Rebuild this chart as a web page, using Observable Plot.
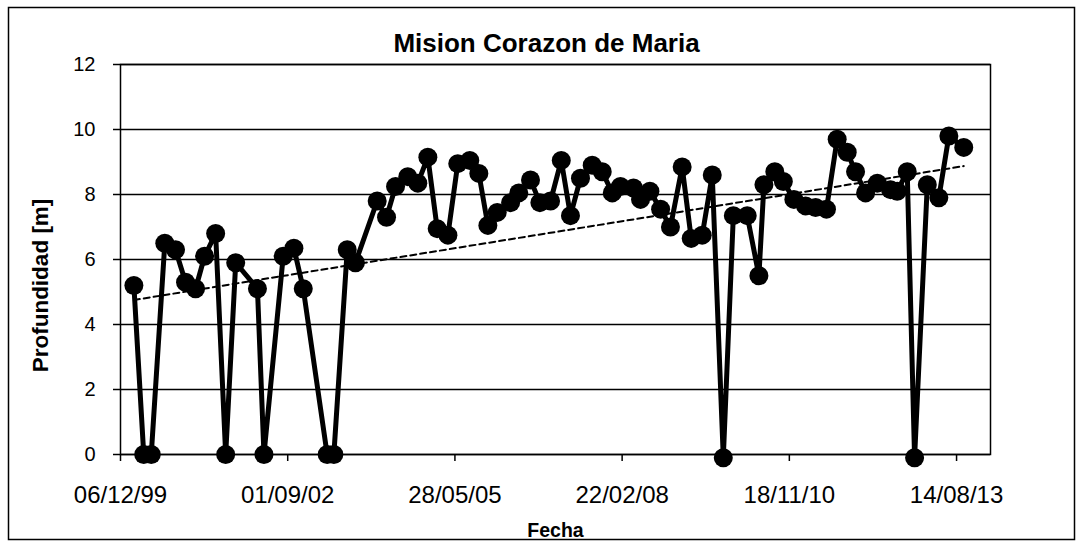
<!DOCTYPE html>
<html><head><meta charset="utf-8">
<script src="https://cdn.jsdelivr.net/npm/d3@7"></script>
<script src="https://cdn.jsdelivr.net/npm/@observablehq/plot@0.6"></script>
<style>body{margin:0;background:#fff}</style>
</head><body><div id="chart"></div>
<script>
const titulo = "Mision Corazon de Maria";
const etiquetaX = "Fecha";
const etiquetaY = "Profundidad [m]";
const fechas = [
 "2000-02-24","2000-04-23","2000-06-07","2000-08-27","2000-10-30","2000-12-29","2001-02-27","2001-04-22","2001-06-27","2001-08-26",
 "2001-10-25","2002-03-04","2002-04-12","2002-08-05","2002-10-08","2002-12-03","2003-04-25","2003-06-04","2003-08-23","2003-10-11",
 "2004-02-18","2004-04-14","2004-06-07","2004-08-19","2004-10-18","2004-12-17","2005-02-11","2005-04-16","2005-06-14","2005-08-25",
 "2005-10-18","2005-12-11","2006-02-05","2006-04-26","2006-06-14","2006-08-23","2006-10-18","2006-12-21","2007-02-23","2007-04-19",
 "2007-06-18","2007-08-27","2007-10-26","2007-12-25","2008-02-12","2008-04-30","2008-06-11","2008-08-06","2008-10-09","2008-12-07",
 "2009-02-15","2009-04-10","2009-06-15","2009-08-14","2009-10-19","2009-12-18","2010-03-11","2010-05-20","2010-06-19","2010-08-23",
 "2010-10-13","2010-12-15","2011-02-23","2011-04-24","2011-06-28","2011-08-31","2011-10-30","2011-12-19","2012-02-17","2012-04-27",
 "2012-07-15","2012-08-24","2012-10-23","2012-12-06","2013-02-20","2013-04-30","2013-06-29","2013-09-26"
];
const profundidad = [
 5.2,0,0,6.5,6.3,5.3,5.1,6.1,6.8,0,
 5.9,5.1,0,6.1,6.35,5.1,0,0,6.3,5.9,
 7.8,7.3,8.25,8.55,8.35,9.15,6.95,6.75,8.95,9.05,
 8.65,7.05,7.45,7.75,8.05,8.45,7.75,7.8,9.05,7.35,
 8.5,8.9,8.7,8.05,8.25,8.2,7.85,8.1,7.55,7.0,
 8.85,6.65,6.75,8.6,-0.1,7.35,7.35,5.5,8.3,8.7,
 8.4,7.85,7.65,7.6,7.55,9.7,9.3,8.7,8.05,8.35,
 8.15,8.1,8.7,-0.1,8.3,7.9,9.8,9.45
];
const yTicks = [0,2,4,6,8,10,12];
const xTickLabels = ["06/12/99","01/09/02","28/05/05","22/02/08","18/11/10","14/08/13"];
const xMax = "2014-03-05";

const parse = d3.utcParse("%d/%m/%y");
const xTicks = xTickLabels.map(parse);
const data = fechas.map((f,i)=>({fecha:new Date(f), prof:profundidad[i]}));
const font = "'Liberation Sans',Arial,sans-serif";

const plot = Plot.plot({
  width:1081, height:548,
  marginLeft:120, marginRight:91, marginTop:64, marginBottom:94,
  style:{fontFamily:font, fontSize:"20px", color:"#000", background:"#fff", overflow:"visible"},
  x:{type:"utc", domain:[xTicks[0], new Date(xMax)]},
  y:{domain:[0,12]},
  marks:[
    Plot.ruleY(yTicks,{stroke:"#000", strokeWidth:1.5}),
    Plot.frame({stroke:"#000", strokeWidth:1.5}),
    Plot.axisY({ticks:yTicks, tickSize:7, tickPadding:18, label:null, fontSize:20, strokeWidth:1.5}),
    Plot.axisX({ticks:xTicks, tickFormat:d3.utcFormat("%d/%m/%y"), tickSize:7, tickPadding:24, label:null, fontSize:24, strokeWidth:1.5}),
    Plot.linearRegressionY(data,{x:"fecha", y:"prof", ci:0, stroke:"#000", strokeWidth:2, strokeDasharray:"6,4"}),
    Plot.line(data,{x:"fecha", y:"prof", stroke:"#000", strokeWidth:5}),
    Plot.dot(data,{x:"fecha", y:"prof", r:9.5, fill:"#000"}),
    Plot.text([titulo],{frameAnchor:"top", textAnchor:"middle", lineAnchor:"middle", dx:-9, dy:-20.5, fontSize:26, fontWeight:"bold"}),
    Plot.text([etiquetaY],{frameAnchor:"left", textAnchor:"middle", lineAnchor:"middle", dx:-80, dy:26, rotate:-90, fontSize:22.5, fontWeight:"bold"}),
    Plot.text([etiquetaX],{frameAnchor:"bottom", textAnchor:"middle", lineAnchor:"middle", dy:76.5, fontSize:19.5, fontWeight:"bold"})
  ]
});
d3.select(plot).append("rect").attr("x",8.5).attr("y",7.5).attr("width",1066).attr("height",532)
  .attr("fill","none").attr("stroke","#000").attr("stroke-width",1.5);
document.getElementById("chart").append(plot);
</script></body></html>
